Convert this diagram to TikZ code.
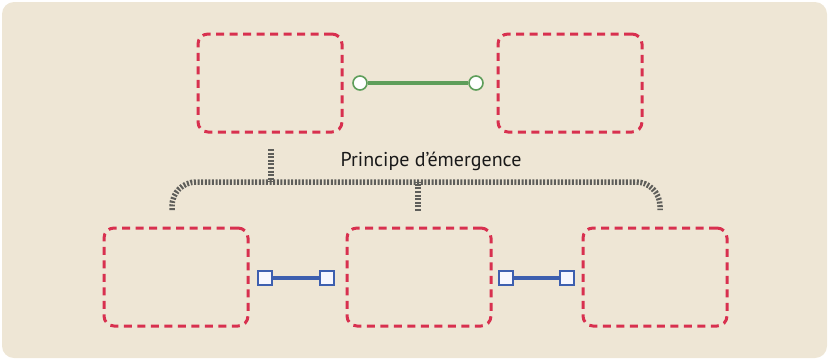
\documentclass[tikz,border=0pt]{standalone}
\usepackage{fontspec}
\setmainfont{PT Sans}
\usepackage{xcolor}

\definecolor{fondbeige}{HTML}{EEE6D5}
\definecolor{rougetiret}{HTML}{D8304F}
\definecolor{vertlien}{HTML}{5E9E5A}
\definecolor{bleulien}{HTML}{3D5FAF}
\definecolor{grisaccol}{HTML}{5E5E5A}

\tikzset{
	boite/.style={draw=rougetiret, line width=3pt, dash pattern=on 8pt off 5.5pt, rounded corners=10pt, minimum width=144pt, minimum height=98pt, inner sep=0pt},
	bouton/.style={circle, draw=vertlien, fill=white, line width=1.6pt, minimum size=14pt, inner sep=0pt},
	carre/.style={rectangle, draw=bleulien, fill=blue!3, line width=1.6pt, minimum size=14pt, inner sep=0pt},
	accolade/.style={grisaccol, line width=5.5pt, dash pattern=on 2pt off 1.6pt}
}

\begin{document}
\begin{tikzpicture}[x=1pt,y=-1pt]
					\useasboundingbox (0,0) rectangle (829,360);
					\fill[fondbeige, rounded corners=12pt] (2,2) rectangle (827,358);
					%% ========================================================
					\begin{scope}
						\node[boite] (haut1) at (270,83) {};
						\node[boite] (haut2) at (570,83) {};

						\node[bouton] (v1) at (360,83) {};
						\node[bouton] (v2) at (476,83) {};
						\draw[vertlien, line width=3.5pt] (v1) -- (v2);
					\end{scope}
					%% ========================================================
					\begin{scope}
						\coordinate (tg) at (271,149);
						\coordinate (tm) at (418,211);
						\draw[accolade, rounded corners=24pt] (172,210) -- (172,182) -- (660,182) -- (660,210);
						\draw[accolade] (tg) -- (tg |- 0,182);
						\draw[accolade] (tm) -- (tm |- 0,182);
						\node[font=\fontsize{20}{24}\selectfont, text=black!90] (titre) at (431,161) {Principe d’émergence};
					\end{scope}
					%% ========================================================
					\begin{scope}
						\node[boite] (bas1) at (176,277) {};
						\node[boite] (bas2) at (419,277) {};
						\node[boite] (bas3) at (655,277) {};

						\node[carre] (b1) at (265,278) {};
						\node[carre] (b2) at (327,278) {};
						\node[carre] (b3) at (506,278) {};
						\node[carre] (b4) at (567,278) {};
						\draw[bleulien, line width=4pt] (b1) -- (b2);
						\draw[bleulien, line width=4pt] (b3) -- (b4);
					\end{scope}
					%% ========================================================
\end{tikzpicture}
\end{document}
